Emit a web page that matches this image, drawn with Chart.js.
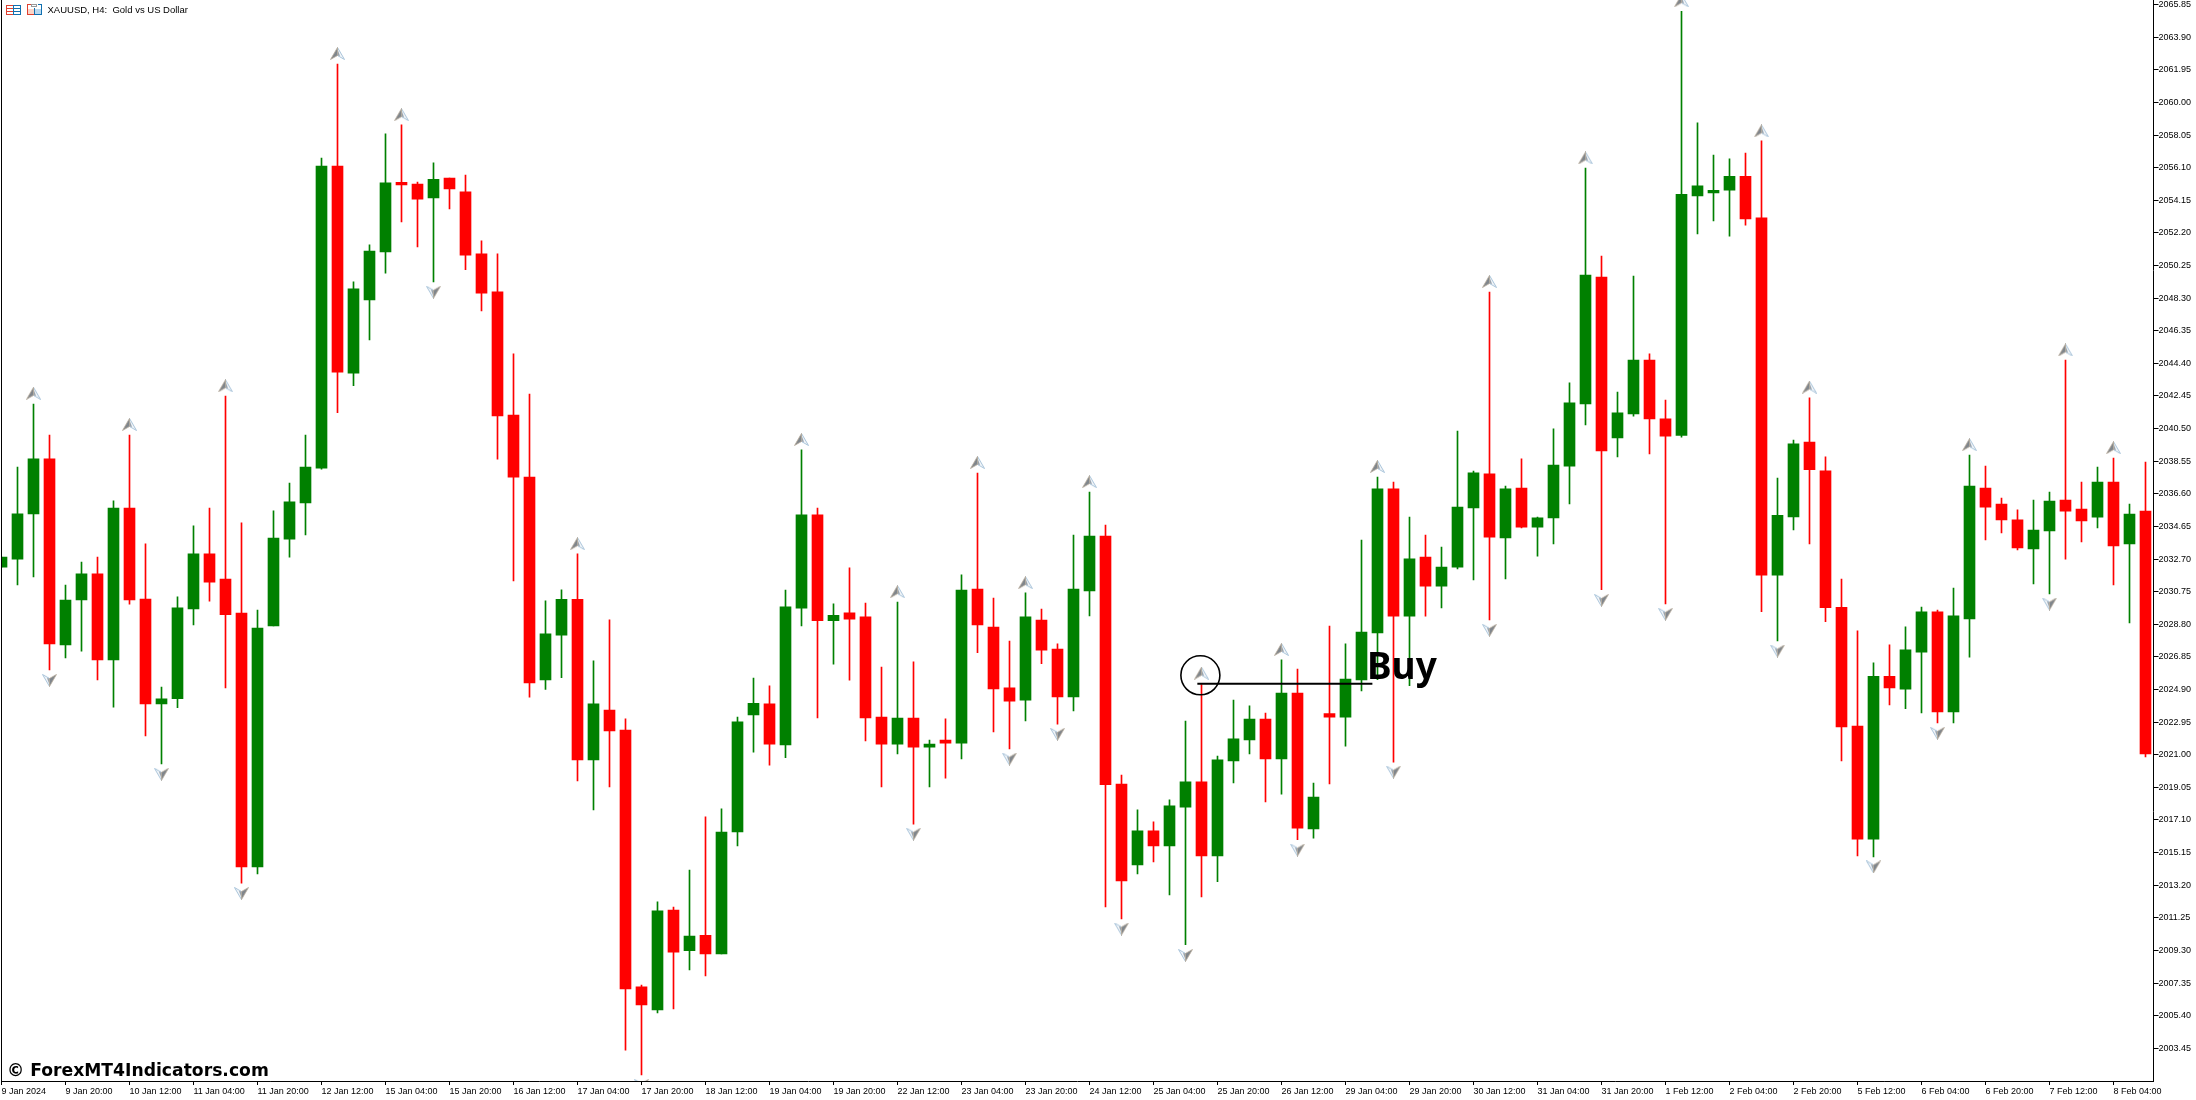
<!DOCTYPE html>
<html>
<head>
<meta charset="utf-8">
<title>XAUUSD H4</title>
<script src="https://cdn.jsdelivr.net/npm/chart.js@4"></script>
<style>
html,body{margin:0;padding:0;background:#fff;}
#box{width:2196px;height:1100px;}
</style>
</head>
<body>
<div id="box"><canvas id="myChart" width="2196" height="1100"></canvas></div>
<script>
// candles
const opens = [2032.22,2032.70,2035.40,2038.69,2027.56,2030.25,2031.82,2026.67,2035.75,2030.31,2024.04,2024.35,2029.72,2033.01,2031.51,2029.47,2014.30,2028.71,2033.89,2036.06,
2038.14,2056.20,2043.82,2048.19,2051.07,2055.22,2055.12,2054.29,2055.48,2054.66,2050.95,2048.68,2041.31,2037.60,2025.47,2028.15,2030.30,2020.69,2023.67,2022.48,
2007.13,2005.75,2011.72,2009.28,2010.21,2009.10,2016.38,2023.38,2024.04,2021.59,2029.76,2035.34,2029.01,2029.48,2029.24,2023.25,2021.64,2023.20,2021.46,2021.88,
2021.70,2030.91,2028.64,2025.00,2024.27,2029.05,2027.32,2024.46,2030.80,2034.07,2019.25,2014.42,2016.45,2015.55,2017.87,2019.38,2014.95,2020.63,2021.89,2023.14,
2020.75,2024.69,2016.56,2023.46,2023.25,2025.47,2028.29,2036.90,2029.29,2032.82,2031.08,2032.22,2035.76,2037.79,2033.96,2036.95,2034.61,2035.16,2038.26,2041.98,
2049.56,2039.94,2041.38,2044.60,2041.08,2040.09,2054.41,2054.59,2054.75,2055.59,2053.10,2031.73,2035.22,2039.69,2037.97,2029.82,2022.71,2015.96,2025.69,2024.92,
2027.14,2029.54,2023.56,2029.12,2036.95,2035.99,2035.04,2033.30,2034.38,2036.23,2035.69,2035.21,2037.31,2033.60,2035.57];
const highs = [2032.82,2038.20,2041.96,2040.11,2031.15,2032.52,2032.82,2036.18,2040.11,2033.61,2025.05,2030.44,2034.68,2035.75,2042.44,2034.86,2029.65,2035.59,2037.25,2040.11,
2056.68,2062.30,2049.27,2051.48,2058.12,2058.66,2055.24,2056.39,2055.48,2055.66,2051.73,2050.95,2044.97,2042.57,2030.20,2030.86,2033.01,2026.62,2029.07,2023.15,
2007.23,2012.21,2011.90,2014.10,2017.29,2017.76,2023.25,2025.59,2025.12,2030.85,2039.23,2035.75,2030.02,2032.17,2030.07,2026.24,2030.13,2026.55,2021.88,2023.15,
2031.76,2037.84,2030.37,2027.80,2030.68,2029.71,2027.63,2034.14,2036.71,2034.73,2019.79,2017.71,2016.99,2018.31,2023.02,2025.20,2020.92,2024.27,2023.93,2023.49,
2026.67,2026.13,2019.31,2028.69,2027.63,2033.84,2037.60,2037.30,2035.21,2034.14,2033.42,2040.35,2037.96,2048.66,2037.06,2038.69,2035.21,2040.48,2043.23,2056.08,
2050.82,2042.68,2049.62,2044.97,2042.21,2065.45,2058.78,2056.86,2056.63,2056.97,2057.70,2037.54,2039.82,2042.34,2038.81,2031.50,2028.41,2026.50,2027.57,2028.65,
2029.83,2029.65,2030.97,2038.92,2038.26,2036.35,2035.64,2036.23,2036.71,2044.60,2037.31,2038.20,2038.74,2035.99,2038.50];
const lows = [2032.22,2031.15,2031.63,2026.07,2026.79,2027.20,2025.47,2023.85,2030.01,2022.12,2020.45,2023.81,2028.77,2030.19,2025.00,2013.33,2013.87,2028.71,2032.82,2034.15,
2038.07,2041.45,2043.06,2045.80,2049.80,2052.85,2051.36,2049.27,2053.63,2050.00,2047.53,2038.67,2031.40,2024.45,2024.90,2025.61,2019.43,2017.70,2019.08,2003.34,
2001.86,2005.57,2005.81,2008.14,2007.77,2009.10,2015.55,2021.15,2020.38,2020.82,2028.70,2023.20,2026.41,2025.46,2021.83,2019.08,2021.05,2016.85,2019.08,2019.60,
2020.75,2027.10,2022.36,2021.35,2023.02,2026.44,2022.83,2023.62,2029.30,2011.91,2011.18,2013.88,2014.60,2012.62,2009.64,2012.50,2013.41,2019.31,2021.05,2018.18,
2018.65,2015.92,2016.02,2019.26,2021.52,2024.81,2025.49,2020.56,2025.13,2029.29,2029.78,2032.11,2031.45,2029.06,2031.51,2034.56,2032.88,2033.61,2036.00,2040.72,
2030.87,2038.80,2041.25,2038.99,2030.02,2039.99,2052.14,2052.91,2052.00,2052.67,2029.55,2027.81,2034.45,2033.61,2028.95,2020.63,2014.95,2014.89,2023.98,2023.75,
2023.50,2022.90,2022.90,2026.84,2033.84,2034.26,2033.24,2031.21,2030.61,2032.70,2033.72,2034.56,2031.15,2028.88,2020.87];
const closes = [2032.82,2035.40,2038.69,2027.62,2030.25,2031.82,2026.67,2035.75,2030.25,2024.04,2024.35,2029.78,2033.01,2031.32,2029.37,2014.30,2028.58,2033.96,2036.12,2038.20,
2056.20,2043.88,2048.85,2051.12,2055.19,2055.07,2054.22,2055.41,2054.83,2050.87,2048.60,2041.26,2037.60,2025.29,2028.23,2030.30,2020.69,2024.04,2022.43,2007.00,
2006.04,2011.67,2009.20,2010.16,2009.10,2016.38,2022.97,2024.08,2021.64,2029.84,2035.34,2029.01,2029.34,2029.11,2023.20,2021.64,2023.20,2021.46,2021.64,2021.70,
2030.85,2028.76,2024.93,2024.21,2029.24,2027.26,2024.46,2030.91,2034.07,2019.21,2013.45,2016.45,2015.55,2017.94,2019.38,2014.95,2020.69,2021.95,2023.14,2020.75,
2024.69,2016.61,2018.47,2023.25,2025.53,2028.33,2036.90,2029.29,2032.71,2031.08,2032.22,2035.81,2037.85,2034.01,2036.90,2034.61,2035.16,2038.32,2042.04,2049.68,
2039.16,2041.44,2044.60,2041.08,2040.05,2054.51,2055.02,2054.75,2055.59,2053.04,2031.73,2035.32,2039.59,2038.04,2029.79,2022.67,2015.96,2025.69,2024.99,2027.27,
2029.54,2023.56,2029.30,2037.07,2035.81,2035.04,2033.36,2034.44,2036.17,2035.57,2034.98,2037.31,2033.48,2035.39,2021.05];

// arrow indicator, candle number + price
const upIdx = [2,8,14,21,25,36,50,56,61,64,68,75,80,86,93,99,105,110,113,123,129,132];
const upPrice = [2042.61,2040.75,2043.06,2062.93,2059.27,2033.62,2039.85,2030.75,2038.48,2031.29,2037.33,2025.88,2027.30,2038.24,2049.30,2056.68,2066.08,2058.30,2042.98,2039.54,2045.20,2039.36];
const downIdx = [3,10,15,27,40,57,63,66,70,74,81,87,93,100,104,111,117,121,128];
const downPrice = [2025.44,2019.83,2012.70,2048.65,2001.23,2016.25,2020.74,2022.22,2010.58,2009.00,2015.30,2019.96,2028.44,2030.23,2029.40,2027.20,2014.29,2022.28,2030.01];

// buy annotation
const buyLineX = [74.74,85.68];
const buyLineY = [2025.25,2025.25];
const circleX = [74.93];
const circleY = [2025.75];

// axis labels
const priceTicks = [2065.85,2063.90,2061.95,2060.00,2058.05,2056.10,2054.15,2052.20,2050.25,2048.30,2046.35,2044.40,2042.45,2040.50,2038.55,2036.60,2034.65,2032.70,2030.75,2028.80,2026.85,2024.90,2022.95,2021.00,2019.05,2017.10,2015.15,2013.20,2011.25,2009.30,2007.35,2005.40,2003.45];
const timeLabels = ["9 Jan 2024","9 Jan 20:00","10 Jan 12:00","11 Jan 04:00","11 Jan 20:00","12 Jan 12:00","15 Jan 04:00","15 Jan 20:00","16 Jan 12:00","17 Jan 04:00","17 Jan 20:00","18 Jan 12:00","19 Jan 04:00","19 Jan 20:00","22 Jan 12:00","23 Jan 04:00","23 Jan 20:00","24 Jan 12:00","25 Jan 04:00","25 Jan 20:00","26 Jan 12:00","29 Jan 04:00","29 Jan 20:00","30 Jan 12:00","31 Jan 04:00","31 Jan 20:00","1 Feb 12:00","2 Feb 04:00","2 Feb 20:00","5 Feb 12:00","6 Feb 04:00","6 Feb 20:00","7 Feb 12:00","8 Feb 04:00"];

const green = "#008000";
const red = "#ff0000";
const candleColors = closes.map((c,i) => c >= opens[i] ? green : red);
const labelFont = {family:"'Liberation Sans'", size:9};

// little gray arrow used for both directions (down = rotated)
function makeArrow(){
    const c = document.createElement("canvas");
    c.width = 15; c.height = 13;
    const g = c.getContext("2d");
    g.beginPath(); g.moveTo(7.5,0.5); g.lineTo(14.5,12.5); g.lineTo(7.5,8.5); g.closePath();
    g.fillStyle = "#f2f5f8"; g.fill();
    g.strokeStyle = "#a8c4da"; g.lineWidth = 1; g.stroke();
    g.beginPath(); g.moveTo(7.5,2); g.lineTo(10,9); g.lineTo(7.5,8.5); g.closePath();
    g.fillStyle = "#9aa4ae"; g.fill();
    g.beginPath(); g.moveTo(7.5,0.5); g.lineTo(0.5,12.5); g.lineTo(7.5,8.5); g.closePath();
    g.fillStyle = "#80868c"; g.fill();
    g.strokeStyle = "#b8ac9c"; g.lineWidth = 0.8; g.stroke();
    return c;
}
const arrow = makeArrow();

// left border, window title, small icons, watermark, Buy text
const overlay = {
    id:"overlay",
    afterDraw(chart){
        const ctx = chart.ctx;
        ctx.save();
        ctx.fillStyle = "#000";
        ctx.fillRect(1,0,1,1081);

        ctx.lineWidth = 1;
        ctx.strokeStyle = "#e04030"; ctx.strokeRect(6.5,5.5,7,9);
        ctx.strokeStyle = "#1070b0"; ctx.strokeRect(13.5,5.5,7,9);
        ctx.fillStyle = "#e04030"; ctx.fillRect(7,8,6,1); ctx.fillRect(7,11,6,1);
        ctx.fillStyle = "#1070b0"; ctx.fillRect(14,8,6,1); ctx.fillRect(14,11,6,1);
        ctx.fillStyle = "#fbd5c8"; ctx.fillRect(28,9,6,5);
        ctx.fillStyle = "#b8d8f0"; ctx.fillRect(35,9,6,5);
        ctx.strokeStyle = "#e04030"; ctx.strokeRect(27.5,4.5,7,10);
        ctx.strokeStyle = "#1070b0"; ctx.strokeRect(34.5,4.5,7,10);
        ctx.fillStyle = "#fff"; ctx.fillRect(31,4,7,4);
        ctx.strokeStyle = "#999"; ctx.strokeRect(31.5,4.5,5,2);

        ctx.fillStyle = "#000";
        ctx.textBaseline = "alphabetic";
        ctx.textAlign = "left";
        ctx.font = "9.5px 'Liberation Sans'";
        ctx.fillText("XAUUSD, H4:  Gold vs US Dollar",47.5,13);

        ctx.font = "bold 37px 'Noto Sans'";
        ctx.fillText("Buy",1367,679);

        ctx.font = "bold 17.2px 'DejaVu Sans'";
        ctx.fillText("© ForexMT4Indicators.com",7,1076);
        ctx.restore();
    }
};

new Chart(document.getElementById("myChart"),{
    type:"bar",
    data:{
        datasets:[
            {
                type:"line",
                data:buyLineX.map((x,i) => ({x:x,y:buyLineY[i]})),
                borderColor:"#000",
                borderWidth:2,
                pointRadius:0,
                order:0
            },
            {
                type:"scatter",
                data:circleX.map((x,i) => ({x:x,y:circleY[i]})),
                pointStyle:"circle",
                pointRadius:19.5,
                backgroundColor:"rgba(0,0,0,0)",
                borderColor:"#000",
                borderWidth:1.6,
                order:0
            },
            {
                type:"scatter",
                data:upIdx.map((x,i) => ({x:x,y:upPrice[i]})),
                pointStyle:arrow,
                pointRadius:9,
                order:1
            },
            {
                type:"scatter",
                data:downIdx.map((x,i) => ({x:x,y:downPrice[i]})),
                pointStyle:arrow,
                pointRotation:180,
                pointRadius:9,
                order:1
            },
            {
                data:opens.map((o,i) => ({x:i,y:[o,closes[i]]})),
                backgroundColor:candleColors,
                barThickness:11,
                grouped:false,
                order:2
            },
            {
                data:lows.map((l,i) => ({x:i,y:[l,highs[i]]})),
                backgroundColor:candleColors,
                barThickness:1,
                grouped:false,
                order:3
            }
        ]
    },
    options:{
        responsive:false,
        animation:false,
        events:[],
        layout:{autoPadding:false,padding:{left:1.5,right:0,top:0,bottom:0}},
        plugins:{legend:{display:false},tooltip:{enabled:false}},
        scales:{
            x:{
                type:"linear",
                offset:false,
                min:0,
                max:134.5,
                grid:{offset:false,drawOnChartArea:false,tickLength:4,tickColor:"#000"},
                border:{color:"#000",width:1},
                afterFit(scale){ scale.height = 19; scale.paddingLeft = 0; scale.paddingRight = 0; },
                afterBuildTicks(scale){ scale.ticks = timeLabels.map((t,i) => ({value:i*4})); },
                ticks:{
                    autoSkip:false,
                    maxRotation:0,
                    align:"start",
                    padding:1,
                    color:"#000",
                    font:labelFont,
                    callback:(v) => timeLabels[v/4]
                }
            },
            y:{
                position:"right",
                min:2001.495,
                max:2066.125,
                grid:{drawOnChartArea:false,tickLength:5,tickColor:"#000"},
                border:{color:"#000",width:1},
                afterFit(scale){ scale.width = 42.5; scale.paddingTop = 0; scale.paddingBottom = 0; },
                afterBuildTicks(scale){ scale.ticks = priceTicks.map(v => ({value:v})); },
                ticks:{
                    autoSkip:false,
                    padding:0,
                    color:"#000",
                    font:labelFont,
                    callback:(v) => v.toFixed(2)
                }
            }
        }
    },
    plugins:[overlay]
});
</script>
</body>
</html>
